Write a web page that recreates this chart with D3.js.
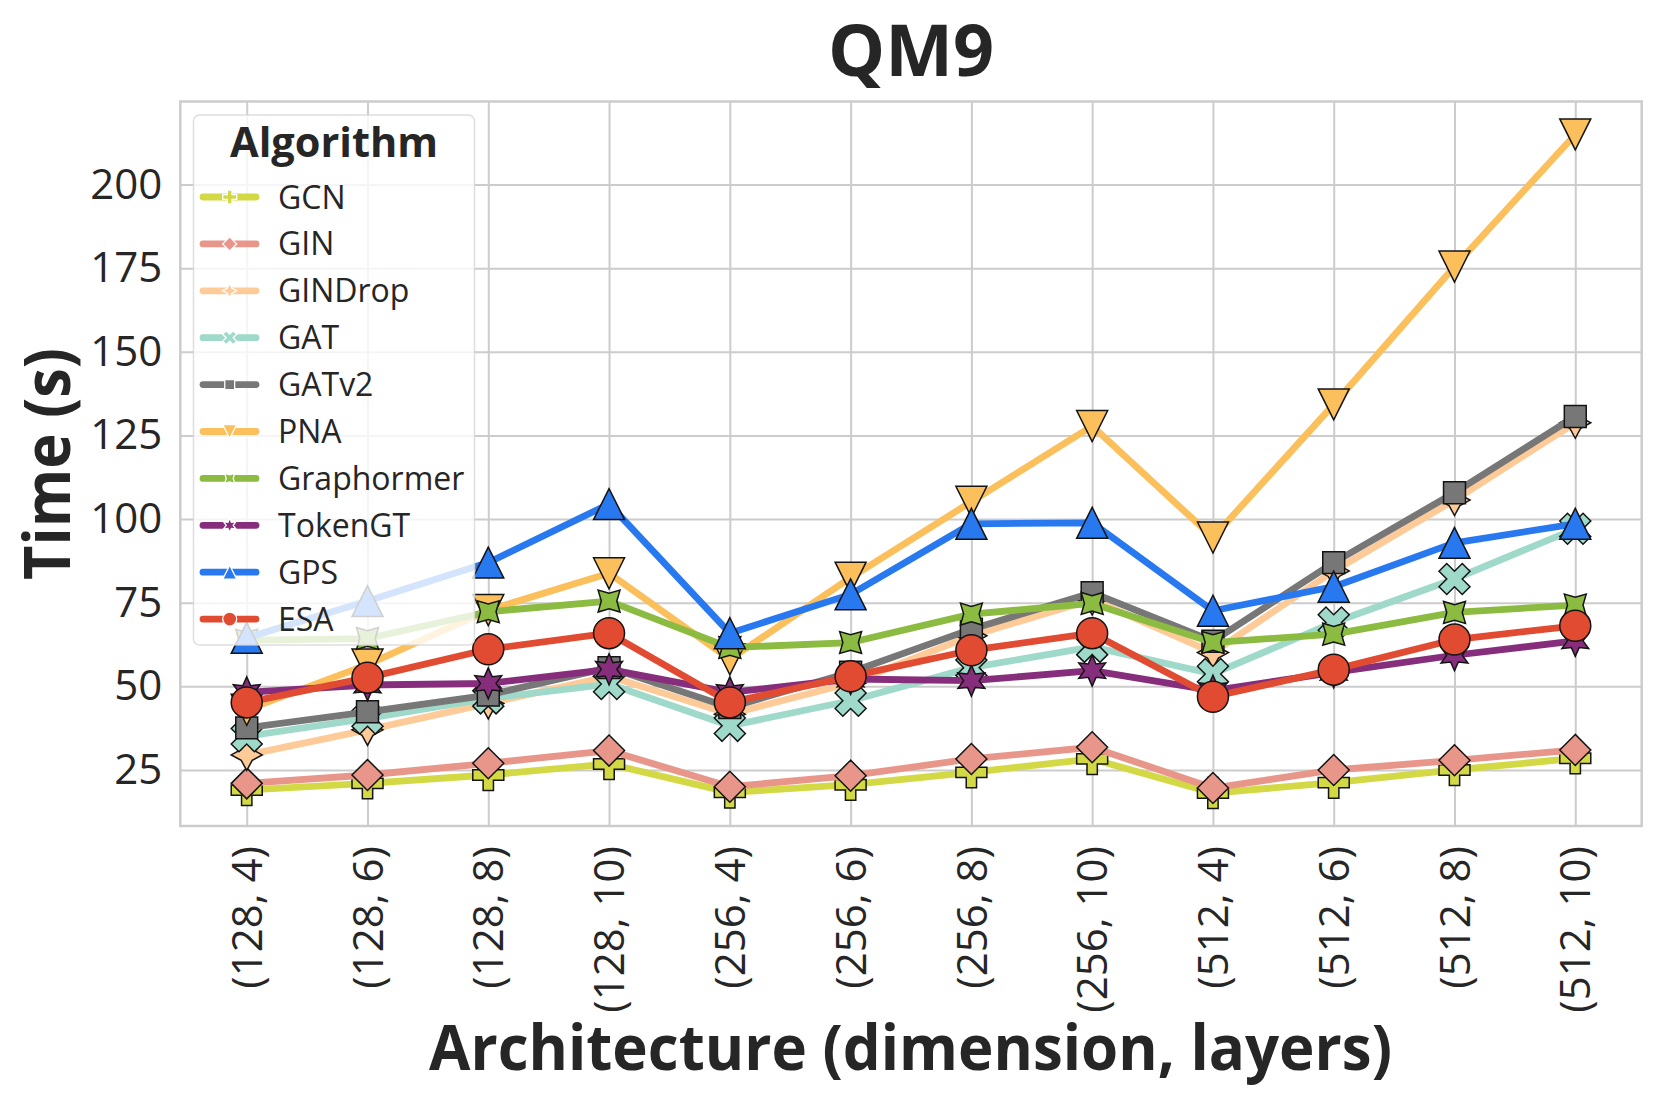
<!DOCTYPE html>
<html>
<head>
<meta charset="utf-8">
<script src="https://cdn.jsdelivr.net/npm/d3@7"></script>
<style>
  body { margin: 0; background: #fff; }
  svg { display: block; }
  text { font-family: 'Open Sans', 'Noto Sans', sans-serif; fill: #262626; }
</style>
</head>
<body>
<div id="chart"></div>
<script>
// Training time per architecture (seconds)
const architectures = ['(128, 4)', '(128, 6)', '(128, 8)', '(128, 10)',
  '(256, 4)', '(256, 6)', '(256, 8)', '(256, 10)',
  '(512, 4)', '(512, 6)', '(512, 8)', '(512, 10)'];

const timeGCN        = [19.0, 21.0, 23.5, 26.8, 18.3, 20.6, 24.3, 28.3, 18.1, 21.2, 25.0, 28.5];
const timeGIN        = [21.0, 23.5, 27.0, 30.8, 20.0, 23.3, 28.3, 31.8, 19.6, 25.0, 27.9, 31.0];
const timeGINDrop    = [29.5, 37.0, 44.9, 53.0, 41.7, 51.0, 65.1, 76.0, 60.1, 84.5, 105.7, 128.8];
const timeGAT        = [35.1, 40.4, 46.4, 50.7, 38.2, 45.7, 55.6, 61.8, 53.7, 69.1, 82.1, 97.1];
const timeGATv2      = [37.6, 42.4, 47.4, 55.6, 43.7, 54.2, 67.1, 78.0, 63.5, 87.0, 107.9, 130.7];
const timePNA        = [43.0, 56.5, 72.8, 83.8, 58.1, 82.5, 105.2, 127.8, 94.5, 134.3, 175.5, 215.0];
const timeGraphormer = [63.8, 64.3, 72.3, 75.5, 61.6, 63.1, 71.6, 74.8, 63.1, 65.6, 72.1, 74.3];
const timeTokenGT    = [48.2, 50.4, 50.9, 55.1, 48.2, 52.2, 51.7, 54.7, 48.7, 54.2, 59.3, 63.6];
const timeGPS        = [64.5, 75.5, 87.0, 104.5, 65.9, 77.5, 98.6, 98.9, 72.6, 79.8, 92.9, 98.6];
const timeESA        = [45.2, 52.6, 61.1, 65.9, 45.2, 53.0, 60.8, 65.9, 46.9, 55.0, 64.0, 68.1];

const algorithms = ['GCN', 'GIN', 'GINDrop', 'GAT', 'GATv2', 'PNA', 'Graphormer', 'TokenGT', 'GPS', 'ESA'];
const seriesValues = [timeGCN, timeGIN, timeGINDrop, timeGAT, timeGATv2, timePNA,
  timeGraphormer, timeTokenGT, timeGPS, timeESA];
const colors = ['#d3d845', '#e9968a', '#fecb98', '#9ed9c9', '#777777', '#fbc05c',
  '#8cbb41', '#862e7c', '#2878f0', '#e04b32'];
const shapes = ['plus', 'diamond', 'star4', 'x', 'square', 'triDown', 'star4r', 'star6', 'triUp', 'circle'];
const yTicks = [25, 50, 75, 100, 125, 150, 175, 200];

const W = 1660, H = 1104;
const box = { left: 180.3, right: 1641.7, top: 101.5, bottom: 826 };

const series = algorithms.map((name, i) => ({
  name, values: seriesValues[i], color: colors[i], shape: shapes[i],
}));

// matplotlib-like marker outlines, centred on 0,0
function markerPath(shape, ms) {
  const r = ms / 2;
  const poly = (pts) => 'M' + pts.map((p) => `${(p[0] * r).toFixed(2)},${(-p[1] * r).toFixed(2)}`).join('L') + 'Z';
  const ngon = (n, rot) => d3.range(n).map((k) => {
    const a = Math.PI / 2 + k * 2 * Math.PI / n + rot * Math.PI / 180;
    return [Math.cos(a), Math.sin(a)];
  });
  const star = (n, rot) => d3.range(2 * n).map((k) => {
    const a = Math.PI / 2 + k * Math.PI / n + rot * Math.PI / 180;
    const rr = k % 2 ? 0.5 : 1;
    return [rr * Math.cos(a), rr * Math.sin(a)];
  });
  switch (shape) {
    case 'circle': return `M${r},0A${r},${r} 0 1,1 ${-r},0A${r},${r} 0 1,1 ${r},0Z`;
    case 'plus': return poly([[-1, -3], [1, -3], [1, -1], [3, -1], [3, 1], [1, 1], [1, 3], [-1, 3], [-1, 1], [-3, 1], [-3, -1], [-1, -1]]
      .map((p) => [p[0] / 3, p[1] / 3]));
    case 'x': return poly([[-1, -2], [0, -1], [1, -2], [2, -1], [1, 0], [2, 1], [1, 2], [0, 1], [-1, 2], [-2, 1], [-1, 0], [-2, -1]]
      .map((p) => [p[0] / 2, p[1] / 2]));
    case 'triUp': return poly([[0, 1], [-1, -1], [1, -1]]);
    case 'triDown': return poly([[0, -1], [-1, 1], [1, 1]]);
    case 'square': return poly(ngon(4, 45));
    case 'diamond': return poly(ngon(4, 0));
    case 'star4': return poly(star(4, 0));
    case 'star4r': return poly(star(4, 45));
    case 'star6': return poly(star(6, 0));
  }
  return '';
}

const svg = d3.select('#chart').append('svg').attr('width', W).attr('height', H);

const x = d3.scalePoint().domain(architectures).range([box.left, box.right]).padding(0.55);
const [lo, hi] = d3.extent(seriesValues.flat());
const pad = (hi - lo) * 0.05;
const y = d3.scaleLinear().domain([lo - pad, hi + pad]).range([box.bottom, box.top]);

// grid
const gridX = svg.append('g').attr('transform', `translate(0,${box.bottom})`)
  .call(d3.axisBottom(x).tickSize(-(box.bottom - box.top)).tickFormat(''));
gridX.select('.domain').remove();
gridX.selectAll('line').attr('stroke', '#cccccc').attr('stroke-width', 2);

const gridY = svg.append('g').attr('transform', `translate(${box.left},0)`)
  .call(d3.axisLeft(y).tickValues(yTicks).tickSize(-(box.right - box.left)).tickFormat(''));
gridY.select('.domain').remove();
gridY.selectAll('line').attr('stroke', '#cccccc').attr('stroke-width', 2);

// tick labels
const yAxis = svg.append('g').attr('transform', `translate(${box.left},0)`)
  .call(d3.axisLeft(y).tickValues(yTicks).tickSize(0).tickPadding(18));
yAxis.select('.domain').remove();
yAxis.selectAll('text')
  .attr('font-size', 42).attr('font-family', null).attr('fill', '#262626');

const xAxis = svg.append('g').attr('transform', `translate(0,${box.bottom})`)
  .call(d3.axisBottom(x).tickSize(0));
xAxis.select('.domain').remove();
xAxis.selectAll('text')
  .attr('font-size', 42).attr('font-family', null).attr('fill', '#262626')
  .attr('x', -20).attr('y', 0).attr('dy', '0.35em')
  .attr('text-anchor', 'end')
  .attr('transform', 'rotate(-90)');

// spines
svg.append('rect')
  .attr('x', box.left).attr('y', box.top)
  .attr('width', box.right - box.left).attr('height', box.bottom - box.top)
  .attr('fill', 'none').attr('stroke', '#cccccc').attr('stroke-width', 2.5);

// series
const line = d3.line().x((d, i) => x(architectures[i])).y((d) => y(d));
const plot = svg.append('g');
series.forEach((s) => {
  const g = plot.append('g').attr('class', 'series');
  g.append('path')
    .attr('d', line(s.values))
    .attr('fill', 'none')
    .attr('stroke', s.color)
    .attr('stroke-width', 6.8)
    .attr('stroke-linejoin', 'round')
    .attr('stroke-linecap', 'round');
  g.selectAll('.marker').data(s.values).join('path')
    .attr('class', 'marker')
    .attr('transform', (d, i) => `translate(${x(architectures[i])},${y(d)})`)
    .attr('d', markerPath(s.shape, 31))
    .attr('fill', s.color)
    .attr('stroke', '#141414')
    .attr('stroke-width', 1.5)
    .attr('stroke-linejoin', 'miter');
});

// legend
const legend = svg.append('g');
legend.append('rect')
  .attr('x', 193.5).attr('y', 115).attr('width', 281).attr('height', 530).attr('rx', 6)
  .attr('fill', '#ffffff').attr('fill-opacity', 0.8)
  .attr('stroke', '#d6d6d6').attr('stroke-opacity', 0.8).attr('stroke-width', 1.5);
legend.append('text')
  .attr('x', 334).attr('y', 142).attr('dy', '0.36em')
  .attr('text-anchor', 'middle')
  .attr('font-size', 42).attr('font-weight', 700)
  .attr('textLength', 208).attr('lengthAdjust', 'spacingAndGlyphs')
  .text('Algorithm');
const item = legend.selectAll('.item').data(series).join('g')
  .attr('class', 'item')
  .attr('transform', (d, i) => `translate(0,${197 + i * 46.9})`);
item.append('line')
  .attr('x1', 203).attr('x2', 256).attr('y1', 0).attr('y2', 0)
  .attr('stroke', (d) => d.color).attr('stroke-width', 6.8).attr('stroke-linecap', 'round');
item.append('path')
  .attr('transform', 'translate(229.7,0)')
  .attr('d', (d) => markerPath(d.shape, 14))
  .attr('fill', (d) => d.color)
  .attr('stroke', '#ffffff').attr('stroke-width', 1.3);
item.append('text')
  .attr('x', 278).attr('y', 0).attr('dy', '0.36em')
  .attr('font-size', 32)
  .text((d) => d.name);

// titles
svg.append('text')
  .attr('x', 911).attr('y', 76)
  .attr('text-anchor', 'middle')
  .attr('font-size', 72).attr('font-weight', 700)
  .attr('textLength', 166).attr('lengthAdjust', 'spacingAndGlyphs')
  .text('QM9');
svg.append('text')
  .attr('x', 910.5).attr('y', 1070)
  .attr('text-anchor', 'middle')
  .attr('font-size', 62).attr('font-weight', 700)
  .attr('textLength', 963).attr('lengthAdjust', 'spacingAndGlyphs')
  .text('Architecture (dimension, layers)');
svg.append('text')
  .attr('transform', 'translate(70,464) rotate(-90)')
  .attr('text-anchor', 'middle')
  .attr('font-size', 64).attr('font-weight', 700)
  .attr('textLength', 232).attr('lengthAdjust', 'spacingAndGlyphs')
  .text('Time (s)');
</script>
</body>
</html>
